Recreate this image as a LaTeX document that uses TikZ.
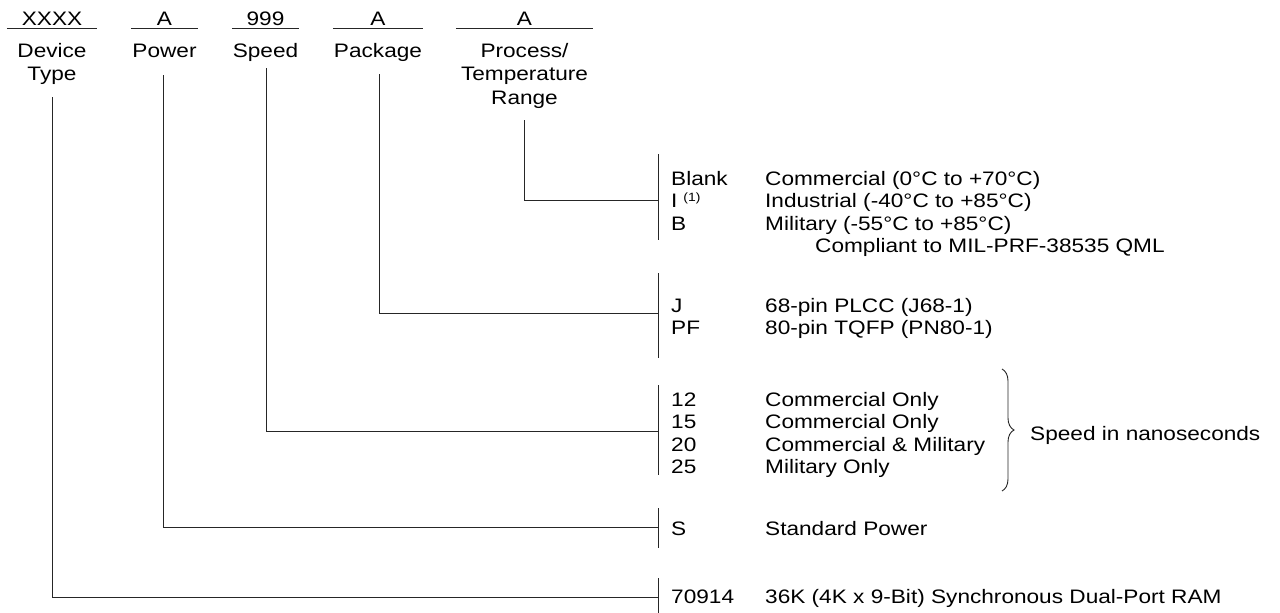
\documentclass[tikz,border=0pt]{standalone}
\usepackage{fontspec}
\setmainfont{Liberation Sans}[FakeStretch=1.16]
\usetikzlibrary{decorations.pathreplacing}

\tikzset{
  lbl/.style={font=\fontsize{19.5}{22.5}\selectfont, inner sep=0pt},
  field/.style={lbl, anchor=base, text depth=3pt},
  head/.style={lbl, anchor=base, align=center, font=\fontsize{19.5}{23.5}\selectfont},
  item/.style={lbl, anchor=base west},
  lead/.style={line width=0.9pt, black!85},
}

\begin{document}
\begin{tikzpicture}[x=1pt,y=-1pt]
\useasboundingbox (0,0) rectangle (1280,613);
% part number fields
\node[field, minimum width=90] (fDev) at (52,25) {XXXX};
\node[field, minimum width=67] (fPwr) at (164.5,25) {A};
\node[field, minimum width=67] (fSpd) at (265.5,25) {999};
\node[field, minimum width=90] (fPkg) at (378,25) {A};
\node[field, minimum width=137] (fTmp) at (524.5,25) {A};
\foreach \f in {fDev,fPwr,fSpd,fPkg,fTmp}
  \draw[lead] (\f.south west) -- (\f.south east);
% base of a multi-line head is its last line
\node[head] (hDev) at (52,80.5) {Device\\Type};
\node[head] (hPwr) at (164.5,57) {Power};
\node[head] (hSpd) at (265.5,57) {Speed};
\node[head] (hPkg) at (378,57) {Package};
\node[head] (hTmp) at (524.5,104) {Process/\\Temperature\\Range};

% process / temperature range
\node[item] (cBlank) at (671,185) {Blank};
\node[item] (dBlank) at (765,185) {Commercial (0°C to +70°C)};
\node[item] (cInd) at (671,207.5) {I\hspace{6pt}\raisebox{6.5pt}{\fontsize{12}{12}\selectfont(1)}};
\node[item] (dInd) at (765,207.5) {Industrial (-40°C to +85°C)};
\node[item] (cMil) at (671,230) {B};
\node[item] (dMil) at (765,230) {Military (-55°C to +85°C)};
\node[item] (dQml) at (815,252.5) {Compliant to MIL-PRF-38535 QML};
% package
\node[item] (cJ) at (671,312) {J};
\node[item] (dJ) at (765,312) {68-pin PLCC (J68-1)};
\node[item] (cPF) at (671,334) {PF};
\node[item] (dPF) at (765,334) {80-pin TQFP (PN80-1)};
% speed
\node[item] (c12) at (671,406) {12};
\node[item] (d12) at (765,406) {Commercial Only};
\node[item] (c15) at (671,428.5) {15};
\node[item] (d15) at (765,428.5) {Commercial Only};
\node[item] (c20) at (671,451) {20};
\node[item] (d20) at (765,451) {Commercial \& Military};
\node[item] (c25) at (671,473.5) {25};
\node[item] (d25) at (765,473.5) {Military Only};
\draw[lead, decorate, decoration={brace, amplitude=12pt}] (1002,369) -- (1002,491);
\node[item] (nsec) at (1030,440) {Speed in nanoseconds};
% power
\node[item] (cS) at (671,535) {S};
\node[item] (dS) at (765,535) {Standard Power};
% device type
\node[item] (cDev) at (671,603) {70914};
\node[item] (dDev) at (765,603) {36K (4K x 9-Bit) Synchronous Dual-Port RAM};

% option bars
\draw[lead] (658,154) -- (658,240);
\draw[lead] (658,273) -- (658,358);
\draw[lead] (658,385) -- (658,475);
\draw[lead] (658,508) -- (658,548);
\draw[lead] (658,578) -- (658,613);

% leaders from fields to bars
\coordinate (tDev) at (52,97);
\coordinate (tPwr) at (163,75);
\coordinate (tSpd) at (266,68);
\coordinate (tPkg) at (379,74);
\coordinate (tTmp) at (524,120);
\coordinate (jDev) at (658,597);
\coordinate (jPwr) at (658,527);
\coordinate (jSpd) at (658,431);
\coordinate (jPkg) at (658,313);
\coordinate (jTmp) at (658,200);
\draw[lead] (tDev) |- (jDev);
\draw[lead] (tPwr) |- (jPwr);
\draw[lead] (tSpd) |- (jSpd);
\draw[lead] (tPkg) |- (jPkg);
\draw[lead] (tTmp) |- (jTmp);
\end{tikzpicture}
\end{document}
